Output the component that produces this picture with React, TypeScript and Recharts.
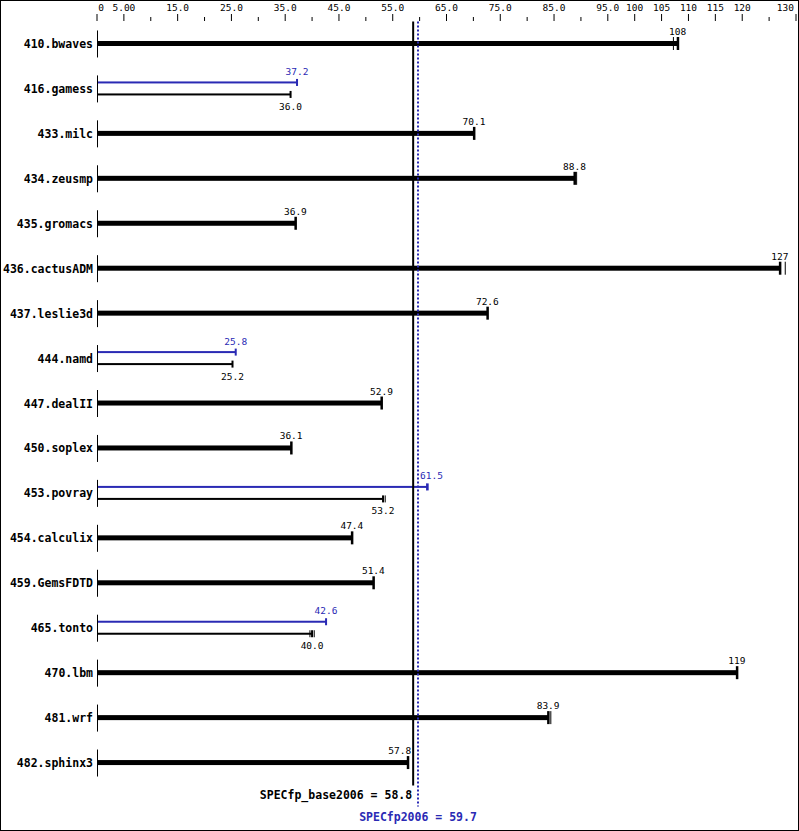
import React from 'react';
import { BarChart, Bar, XAxis, YAxis, ReferenceLine } from 'recharts';

const benchmarks = [
  '410.bwaves', '416.gamess', '433.milc', '434.zeusmp', '435.gromacs',
  '436.cactusADM', '437.leslie3d', '444.namd', '447.dealII', '450.soplex',
  '453.povray', '454.calculix', '459.GemsFDTD', '465.tonto', '470.lbm',
  '481.wrf', '482.sphinx3',
];
const baseScores = [108, 36.0, 70.1, 88.8, 36.9, 127, 72.6, 25.2, 52.9, 36.1, 53.2, 47.4, 51.4, 40.0, 119, 83.9, 57.8];
const peakScores = [null, 37.2, null, null, null, null, null, 25.8, null, null, 61.5, null, null, 42.6, null, null, null];
// extra run marks drawn next to the median tick
const baseRuns = [[107.2], [], [], [89.2], [], [128.0], [], [], [], [], [53.6], [], [], [39.6, 40.4], [], [84.4], []];
const peakRuns = [[], [], [], [], [], [], [], [], [], [], [61.3], [], [], [], [], [], []];

const axisTicks = [0, 5, 10, 15, 20, 25, 30, 35, 40, 45, 50, 55, 60, 65, 70, 75, 80, 85, 90, 95, 100, 105, 110, 115, 120, 125, 130];
const labelledTicks = [0, 5, 15, 25, 35, 45, 55, 65, 75, 85, 95, 100, 105, 110, 115, 120, 130];

const baseMean = 58.8;
const peakMean = 59.7;

const BLUE = '#2a2ab4';
const MONO = '"DejaVu Sans Mono", "Liberation Mono", monospace';
const CHAR_W = 5.72; // approx glyph advance at 9.5px

const data = benchmarks.map((name, i) => ({
  name,
  base: baseScores[i],
  peak: peakScores[i],
  baseRuns: baseRuns[i],
  peakRuns: peakRuns[i],
}));

const fmt = (v: number) => (v === 0 ? '0' : v < 10 ? v.toFixed(2) : v < 100 ? v.toFixed(1) : v.toFixed(0));

// keep value labels from sitting on top of the two mean lines
const labelX = (end: number, text: string, x0: number, scale: number) => {
  const half = (text.length * CHAR_W) / 2;
  const lineL = x0 + baseMean * scale - 1;
  const lineR = x0 + peakMean * scale + 1;
  if (end + half > lineL && end - half < lineR) {
    if (end < (lineL + lineR) / 2) return lineL - half - 1;
    return lineR + half + 1;
  }
  return end;
};

const TopTick = (props: any) => {
  const { x, payload } = props;
  const v = payload.value;
  const major = labelledTicks.includes(v);
  let tx = x;
  let anchor: any = 'middle';
  if (v === 0) tx = x + 4;
  if (v === 130) { tx = x - 2; anchor = 'end'; }
  return (
    <g>
      <line x1={x} x2={x} y1={major ? 14 : 17} y2={21} stroke="#000" strokeWidth={1} />
      {major && (
        <text x={tx} y={11} textAnchor={anchor} fontFamily={MONO} fontSize={9.5} fill="#000">
          {fmt(v)}
        </text>
      )}
    </g>
  );
};

const CatTick = (props: any) => {
  const { y, payload } = props;
  return (
    <g>
      <line x1={97.5} x2={97.5} y1={y - 13.5} y2={y + 13.5} stroke="#000" strokeWidth={1} />
      <text x={93} y={y + 4} textAnchor="end" fontFamily={MONO} fontWeight="bold" fontSize={11.5} fill="#000">
        {payload.value}
      </text>
    </g>
  );
};

const BaseShape = (props: any) => {
  const { x, y, width, height, payload } = props;
  if (payload.base == null) return null;
  const scale = width / payload.base;
  const end = x + width;
  const label = fmt(payload.base);
  const lx = labelX(end, label, x, scale);
  const paired = payload.peak != null;
  if (!paired) {
    const cy = y + height / 2 - 6;
    return (
      <g>
        <rect x={x} y={cy - 2.5} width={width} height={5} fill="#000" />
        <rect x={end - 1} y={cy - 6.5} width={2.5} height={13} fill="#000" />
        {payload.baseRuns.map((r: number, k: number) => (
          <rect key={k} x={x + r * scale - 0.5} y={cy - 6.5} width={1} height={13} fill="#000" />
        ))}
        <text x={lx} y={cy - 8.5} textAnchor="middle" fontFamily={MONO} fontSize={9.5} fill="#000">
          {label}
        </text>
      </g>
    );
  }
  const cy = y + height / 2;
  return (
    <g>
      <rect x={x} y={cy - 1} width={width} height={2} fill="#000" />
      <rect x={end - 1} y={cy - 3.5} width={2} height={7} fill="#000" />
      {payload.baseRuns.map((r: number, k: number) => (
        <rect key={k} x={x + r * scale - 0.5} y={cy - 3.5} width={1} height={7} fill="#000" />
      ))}
      <text x={lx} y={cy + 15.5} textAnchor="middle" fontFamily={MONO} fontSize={9.5} fill="#000">
        {label}
      </text>
    </g>
  );
};

const PeakShape = (props: any) => {
  const { x, y, width, height, payload } = props;
  if (payload.peak == null || !width) return null;
  const scale = width / payload.peak;
  const end = x + width;
  const cy = y + height / 2;
  const label = fmt(payload.peak);
  const lx = labelX(end, label, x, scale);
  return (
    <g>
      <rect x={x} y={cy - 1} width={width} height={2} fill={BLUE} />
      <rect x={end - 1} y={cy - 3.5} width={2} height={7} fill={BLUE} />
      {payload.peakRuns.map((r: number, k: number) => (
        <rect key={k} x={x + r * scale - 0.5} y={cy - 3.5} width={1} height={7} fill={BLUE} />
      ))}
      <text x={lx} y={cy - 7.5} textAnchor="middle" fontFamily={MONO} fontSize={9.5} fill={BLUE}>
        {label}
      </text>
    </g>
  );
};

const BaseMeanLine = (props: any) => {
  const { x1, y1, y2 } = props;
  return (
    <g>
      <line x1={x1} x2={x1} y1={y1} y2={y2} stroke="#000" strokeWidth={2} />
      <text x={x1 - 1} y={798.5} textAnchor="end" fontFamily={MONO} fontWeight="bold" fontSize={11.5} fill="#000">
        {`SPECfp_base2006 = ${baseMean.toFixed(1)}`}
      </text>
    </g>
  );
};

const PeakMeanLine = (props: any) => {
  const { x1, y1, y2 } = props;
  return (
    <g>
      <line x1={x1} x2={x1} y1={y1} y2={y2 + 21} stroke={BLUE} strokeWidth={2} strokeDasharray="2 2" />
      <text x={x1} y={820.5} textAnchor="middle" fontFamily={MONO} fontWeight="bold" fontSize={11.5} fill={BLUE}>
        {`SPECfp2006 = ${peakMean.toFixed(1)}`}
      </text>
    </g>
  );
};

export default function App() {
  return (
    <div style={{ position: 'absolute', left: 0, top: 0, width: 799, height: 831, background: '#fff' }}>
      <BarChart
        width={799}
        height={831}
        data={data}
        layout="vertical"
        margin={{ top: 0.5, right: 3, bottom: 45.5, left: 0 }}
        barCategoryGap={0}
        barGap={6}
        barSize={6}
      >
        <XAxis
          type="number"
          orientation="top"
          domain={[0, 130]}
          ticks={axisTicks}
          interval={0}
          height={21}
          axisLine={false}
          tickLine={false}
          tick={<TopTick />}
        />
        <YAxis
          type="category"
          dataKey="name"
          width={97}
          interval={0}
          axisLine={false}
          tickLine={false}
          tick={<CatTick />}
        />
        <Bar dataKey="peak" shape={<PeakShape />} isAnimationActive={false} />
        <Bar dataKey="base" shape={<BaseShape />} isAnimationActive={false} />
        <ReferenceLine x={baseMean} shape={<BaseMeanLine />} />
        <ReferenceLine x={peakMean} shape={<PeakMeanLine />} />
      </BarChart>
      <div
        style={{
          position: 'absolute', left: 0, top: 0, width: 799, height: 831,
          boxSizing: 'border-box', border: '1px solid #000', pointerEvents: 'none',
        }}
      />
    </div>
  );
}
